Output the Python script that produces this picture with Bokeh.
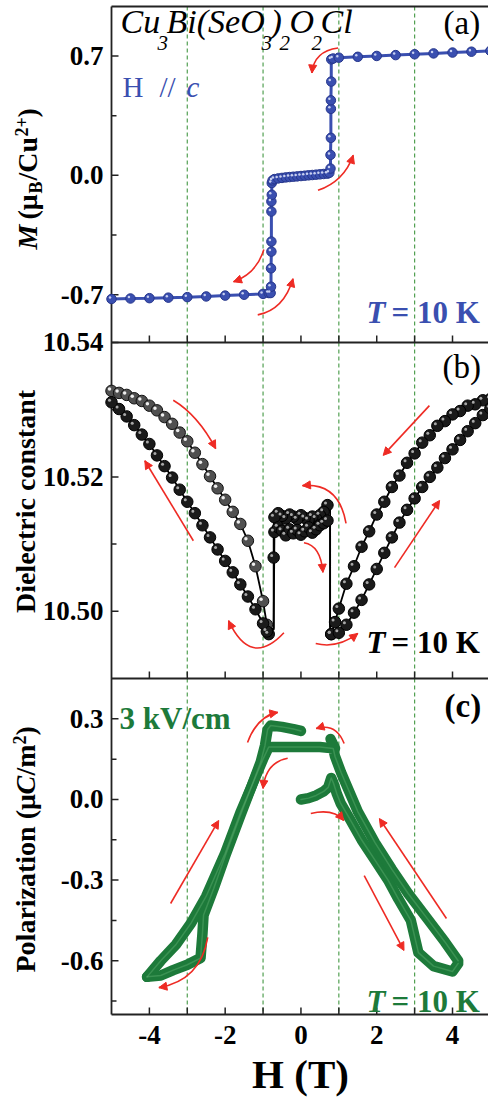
import math
from bokeh.plotting import figure
from bokeh.models import Range1d, Label, Arrow, NormalHead
from bokeh.embed import file_html
from bokeh.resources import INLINE

# ---------------- data ----------------
# (a) magnetization, H // c
H_a = [-5.0, -4.5, -4.0, -3.5, -3.0, -2.5, -2.0, -1.5, -1.0, -0.85, -0.8,
       -0.79, -0.79, -0.78, -0.78, -0.78, -0.78, -0.77, -0.77,
       -0.75, -0.7, -0.6, -0.5, -0.4, -0.3, -0.2, -0.1, 0.0, 0.1, 0.2, 0.3, 0.4, 0.5, 0.6, 0.7, 0.75,
       0.78, 0.78, 0.79, 0.79, 0.79, 0.8, 0.8,
       0.85, 1.0, 1.5, 2.0, 2.5, 3.0, 3.5, 4.0, 4.5, 5.0]
M_a = [-0.725, -0.722, -0.72, -0.717, -0.714, -0.71, -0.705, -0.70, -0.695, -0.69, -0.69,
       -0.653, -0.545, -0.447, -0.388, -0.212, -0.153, -0.114, -0.045,
       -0.03, -0.022, -0.018, -0.015, -0.012, -0.01, -0.008, -0.006, -0.004, -0.002, 0.0, 0.002, 0.004, 0.006, 0.008, 0.01, 0.015,
       0.04, 0.12, 0.22, 0.39, 0.44, 0.55, 0.68,
       0.685, 0.69, 0.695, 0.70, 0.705, 0.71, 0.715, 0.72, 0.725, 0.73]

# (b) dielectric constant; sweep 1 (field decreasing)
H_b_C = [5.0, 4.8, 4.6, 4.4, 4.2, 4.0, 3.8, 3.6, 3.4, 3.2, 3.0, 2.8, 2.6, 2.4, 2.2, 2.0, 1.8, 1.6, 1.4, 1.2, 1.0, 0.9, 0.8, 0.77, 0.77]
E_b_C = [10.5316, 10.5314, 10.5308, 10.5306, 10.5298, 10.5293, 10.5283, 10.5276, 10.5262, 10.5251, 10.5235, 10.5221,
         10.5202, 10.5185, 10.5163, 10.5144, 10.5119, 10.5096, 10.5067, 10.5041, 10.5004, 10.4984, 10.4966, 10.4975, 10.5150]
H_b_P1 = [0.7, 0.6, 0.5, 0.4, 0.3, 0.2, 0.1, 0.0, -0.1, -0.2, -0.3, -0.4, -0.5, -0.6, -0.7]
E_b_P1 = [10.5158, 10.5148, 10.5143, 10.5138, 10.5141, 10.5136, 10.5139, 10.5143, 10.5137, 10.5141, 10.5144, 10.5138,
          10.5142, 10.5146, 10.5140]
H_b_B = [-0.72, -0.72, -0.72, -0.85, -0.9, -1.0, -1.2, -1.4, -1.6, -1.8, -2.0, -2.2, -2.4, -2.6, -2.8, -3.0, -3.2, -3.4,
         -3.6, -3.8, -4.0, -4.2, -4.4, -4.6, -4.8, -5.0]
E_b_B = [10.5125, 10.5080, 10.4975, 10.4966, 10.4970, 10.4982, 10.5003, 10.5022, 10.5040, 10.5058, 10.5075, 10.5092,
         10.5110, 10.5128, 10.5146, 10.5163, 10.5181, 10.5199, 10.5216, 10.5232, 10.5249, 10.5263, 10.5277, 10.5290,
         10.5301, 10.5311]
# sweep 2 (field increasing)
H_b_A = [-5.0, -4.8, -4.6, -4.4, -4.2, -4.0, -3.8, -3.6, -3.4, -3.2, -3.0, -2.8, -2.6, -2.4, -2.2, -2.0, -1.8, -1.6,
         -1.4, -1.2, -1.0, -0.9]
E_b_A = [10.5328, 10.5325, 10.5322, 10.5317, 10.5313, 10.5306, 10.5299, 10.5289, 10.5279, 10.5266, 10.5253, 10.5236,
         10.5219, 10.5201, 10.5183, 10.5166, 10.5148, 10.5130, 10.5105, 10.5067, 10.5015, 10.4980]
H_b_P2 = [-0.72, -0.7, -0.6, -0.5, -0.4, -0.3, -0.2, -0.1, 0.0, 0.1, 0.2, 0.3, 0.4, 0.5, 0.6, 0.7, 0.77, 0.77]
E_b_P2 = [10.4972, 10.5118, 10.5125, 10.5120, 10.5113, 10.5122, 10.5116, 10.5121, 10.5114, 10.5119, 10.5125, 10.5117,
          10.5122, 10.5128, 10.5131, 10.5135, 10.5132, 10.4978]
H_b_D = [0.8, 1.0, 1.2, 1.4, 1.6, 1.8, 2.0, 2.2, 2.4, 2.6, 2.8, 3.0, 3.2, 3.4, 3.6, 3.8, 4.0, 4.2, 4.4, 4.6, 4.8, 5.0]
E_b_D = [10.4966, 10.4968, 10.4980, 10.4998, 10.5017, 10.5040, 10.5063, 10.5087, 10.5110, 10.5132, 10.5151, 10.5168,
         10.5185, 10.5200, 10.5214, 10.5228, 10.5241, 10.5255, 10.5268, 10.5280, 10.5292, 10.5302]

# (c) polarization at 3 kV/cm
H_c1 = [0.0, 0.2, 0.4, 0.6, 0.72, 0.8, 0.86, 0.95, 1.05, 1.3, 1.6, 1.95, 2.3, 2.57, 2.9, 3.1, 3.5, 4.0, 4.15]
P_c1 = [0.0, 0.005, 0.015, 0.03, 0.045, 0.08, 0.06, 0.02, -0.015, -0.075, -0.15, -0.225, -0.30, -0.37, -0.45, -0.57,
        -0.62, -0.64, -0.61]
H_c2 = [4.15, 3.8, 3.37, 2.83, 2.4, 1.95, 1.5, 1.06, 0.9, 0.85, 0.5, 0.0, -0.5, -0.85, -1.0, -1.3, -1.6, -2.0, -2.5,
        -2.9, -3.3, -3.7, -4.06]
P_c2 = [-0.60, -0.53, -0.45, -0.35, -0.26, -0.16, -0.045, 0.10, 0.16, 0.19, 0.195, 0.195, 0.195, 0.195, 0.15, 0.05,
        -0.05, -0.20, -0.36, -0.46, -0.54, -0.60, -0.66]
H_c3 = [-4.06, -3.7, -3.37, -3.0, -2.65, -2.6, -2.57, -2.3, -2.0, -1.6, -1.3, -1.06, -0.95, -0.88, -0.8, -0.5, -0.2, 0.0]
P_c3 = [-0.66, -0.655, -0.635, -0.615, -0.59, -0.50, -0.43, -0.33, -0.21, -0.06, 0.05, 0.14, 0.20, 0.26, 0.275, 0.27,
        0.262, 0.255]
H_c4 = [0.9, 0.78]
P_c4 = [0.19, 0.225]

# axis ticks
x_ticks = [-4, -2, 0, 2, 4]
x_minor = [-3, -1, 1, 3]
yt_a, yl_a, ym_a = [-0.7, 0.0, 0.7], ["-0.7", "0.0", "0.7"], [-0.35, 0.35]
yt_b, yl_b, ym_b = [10.50, 10.52, 10.54], ["10.50", "10.52", "10.54"], [10.51, 10.53]
yt_c, yl_c, ym_c = [-0.6, -0.3, 0.0, 0.3], ["-0.6", "-0.3", "0.0", "0.3"], [-0.75, -0.45, -0.15, 0.15]
guide_H = [-3, -1, 1, 3]

# ---------------- layout ----------------
RED = "#ee2b24"
BLUE = "#3a4fb0"
GREEN = "#1d7a3a"
DGREEN = "#52a052"
AX = "#222222"
SERIF = "Liberation Serif"
W, HH = 488, 1100
FL, PT, PH = 111, 6, 336          # panel left edge, top of first panel, panel height (px)
x_lo, x_hi = -5.0, 4.95
lims = {"default": (-0.98, 0.99), "yb": (10.49, 10.54), "yc": (-0.8, 0.45)}
order = {"default": 0, "yb": 1, "yc": 2}
ppu = {k: PH / (hi - lo) for k, (lo, hi) in lims.items()}
ppx = (W - FL) / (x_hi - x_lo)
XL = x_lo - FL / ppx


def top_px(k):
    return PT + order[k] * PH


def full(k):
    lo, hi = lims[k]
    t = top_px(k)
    return Range1d(lo - (HH - t - PH) / ppu[k], hi + t / ppu[k])


def X(px):
    return x_lo + (px - FL) / ppx


def Y(k, py):
    return lims[k][1] - (py - top_px(k)) / ppu[k]


p = figure(width=W, height=HH, x_range=Range1d(XL, x_hi), y_range=full("default"),
           output_backend="svg", toolbar_location=None, x_axis_location=None, y_axis_location=None,
           min_border=0, min_border_left=0, min_border_right=0, min_border_top=0, min_border_bottom=0,
           outline_line_color=None, background_fill_color="white", border_fill_color="white")
p.extra_y_ranges = {"yb": full("yb"), "yc": full("yc")}
p.grid.visible = False

bottom_a = Y("default", PT + 3 * PH)

# guide lines
p.segment(x0=guide_H, y0=[lims["default"][1]] * 4, x1=guide_H, y1=[bottom_a] * 4,
          line_color=DGREEN, line_width=1.2, line_dash="4 3")

# frame lines
p.segment(x0=[x_lo], y0=[lims["default"][1]], x1=[x_lo], y1=[bottom_a], line_color=AX, line_width=1.8)
for k in ["default", "yb", "yc"]:
    p.segment(x0=[x_lo], y0=[lims[k][0]], x1=[x_hi], y1=[lims[k][0]], line_color=AX, line_width=1.8,
              y_range_name=k)
p.segment(x0=[x_lo], y0=[lims["default"][1]], x1=[x_hi], y1=[lims["default"][1]], line_color=AX, line_width=1.8)

# x ticks on every panel bottom
for k in ["default", "yb", "yc"]:
    xx = x_ticks + x_minor
    p.ray(x=xx, y=[lims[k][0]] * len(xx), length=7, length_units="screen", angle=math.pi / 2,
          line_color=AX, line_width=1.5, y_range_name=k)


def lab(k, xpx, ypx, text, size, style="normal", color="black", angle=0.0, align="left"):
    # baseline placement (px); Bokeh's alphabetic anchor sits about a third of an em low
    sh = 0.34 * size
    if angle:
        xpx = xpx - sh
    else:
        ypx = ypx - sh
    p.add_layout(Label(x=X(xpx), y=Y(k, ypx), text=text, y_range_name=k, text_font=SERIF,
                       text_font_size=f"{size}px", text_font_style=style, text_color=color,
                       angle=angle, text_align=align, text_baseline="alphabetic"))


# y ticks and tick labels
for k, (tv, tl, tm) in {"default": (yt_a, yl_a, ym_a), "yb": (yt_b, yl_b, ym_b), "yc": (yt_c, yl_c, ym_c)}.items():
    p.ray(x=[x_lo] * len(tv), y=tv, length=7, length_units="screen", angle=0, line_color=AX,
          line_width=1.5, y_range_name=k)
    p.ray(x=[x_lo] * len(tm), y=tm, length=5, length_units="screen", angle=0, line_color=AX,
          line_width=1.5, y_range_name=k)
    for v, t in zip(tv, tl):
        py = top_px(k) + (lims[k][1] - v) * ppu[k]
        lab(k, 103, py + 9, t, 27, "bold", align="right")

# x tick labels and title
for v in x_ticks:
    lab("yc", FL + (v - x_lo) * ppx, 1044, f"{v}", 27, "bold", align="center")
lab("yc", 300, 1087, "H (T)", 41, "bold", align="center")

# ---------------- panel (a) ----------------
p.line(H_a, M_a, line_color=BLUE, line_width=3)
p.scatter(H_a, M_a, size=9.5, fill_color=BLUE, line_color="#26368c", line_width=1)
p.scatter([h - 1.5 / ppx for h in H_a], [m + 1.5 / ppu["default"] for m in M_a], size=2.5,
          fill_color="#c8d0f0", line_color=None)

# ---------------- panel (b) ----------------
seq1_H = H_b_C + H_b_P1 + H_b_B
seq1_E = E_b_C + E_b_P1 + E_b_B
seq2_H = H_b_A + H_b_P2 + H_b_D
seq2_E = E_b_A + E_b_P2 + E_b_D
p.line(seq1_H, seq1_E, line_color="black", line_width=1.8, y_range_name="yb")
p.line(seq2_H, seq2_E, line_color="black", line_width=1.8, y_range_name="yb")
dark_H = H_b_C[:23] + H_b_P1 + H_b_B[1:2] + H_b_B[3:] + H_b_P2[1:16] + H_b_D
dark_E = E_b_C[:23] + E_b_P1 + E_b_B[1:2] + E_b_B[3:] + E_b_P2[1:16] + E_b_D
p.scatter(H_b_A, E_b_A, size=11.5, fill_color="#505050", line_color="#111111", y_range_name="yb")
p.scatter([h - 2 / ppx for h in H_b_A], [e + 2 / ppu["yb"] for e in E_b_A], size=3.5,
          fill_color="#eeeeee", line_color=None, y_range_name="yb")
p.scatter(dark_H, dark_E, size=11.5, fill_color="#1a1a1a", line_color="#000000", y_range_name="yb")
p.scatter([h - 2 / ppx for h in dark_H], [e + 2 / ppu["yb"] for e in dark_E], size=3,
          fill_color="#a8a8a8", line_color=None, y_range_name="yb")

# ---------------- panel (c) ----------------
p.multi_line([H_c1, H_c2, H_c3, H_c4], [P_c1, P_c2, P_c3, P_c4], line_color=GREEN, line_width=10.5,
             line_cap="round", line_join="round", y_range_name="yc")
p.multi_line([H_c1, H_c2, H_c3], [P_c1, P_c2, P_c3], line_color="#5fb070", line_width=1.5, line_alpha=0.45,
             line_cap="round", line_join="round", y_range_name="yc")

# ---------------- red arrows ----------------
curved = {
    "default": [(0.98, 0.747, 0.345, 0.729, 0.29, 0.60),
                (0.45, -0.088, 1.14, -0.035, 1.38, 0.118),
                (-0.98, -0.435, -1.17, -0.576, -1.78, -0.624),
                (-1.14, -0.818, -0.45, -0.788, -0.21, -0.606)],
    "yb": [(-3.37, 10.5314, -2.72, 10.5292, -2.25, 10.5242),
           (-2.84, 10.5105, -3.53, 10.5169, -4.12, 10.5224),
           (-0.45, 10.4968, -1.33, 10.4915, -1.91, 10.4986),
           (0.39, 10.4952, 0.97, 10.4944, 1.5, 10.4967),
           (1.19, 10.5131, 1.0, 10.5192, 0.04, 10.5187),
           (0.08, 10.5102, 0.52, 10.5098, 0.58, 10.5058)],
    "yc": [(-1.41, 0.212, -1.15, 0.31, -0.61, 0.324),
           (-0.35, 0.153, -0.93, 0.138, -1.0, 0.041),
           (1.14, 0.208, 0.93, 0.286, 0.40, 0.264),
           (0.26, -0.052, 0.86, -0.033, 1.13, -0.078),
           (-2.46, -0.513, -2.65, -0.673, -3.75, -0.70)],
}
straight = {
    "yb": [(3.39, 10.5306, 2.17, 10.5232), (2.47, 10.5065, 3.66, 10.5165)],
    "yc": [(3.84, -0.443, 2.07, -0.071), (1.67, -0.283, 2.72, -0.562), (-3.44, -0.387, -2.17, -0.078)],
}
for k, lst in curved.items():
    for (x0, y0, cx, cy, x1, y1) in lst:
        p.quadratic(x0=x0, y0=y0, cx=cx, cy=cy, x1=x1, y1=y1, line_color=RED, line_width=1.6, y_range_name=k)
        p.add_layout(Arrow(x_start=cx, y_start=cy, x_end=x1, y_end=y1, line_alpha=0, y_range_name=k,
                           end=NormalHead(size=8, fill_color=RED, line_color=RED, line_width=1)))
for k, lst in straight.items():
    for (x0, y0, x1, y1) in lst:
        p.add_layout(Arrow(x_start=x0, y_start=y0, x_end=x1, y_end=y1, line_color=RED, line_width=1.6,
                           y_range_name=k, end=NormalHead(size=8, fill_color=RED, line_color=RED, line_width=1)))

# ---------------- texts ----------------
for t, xp, yp, sz in [("Cu", 120, 33, 34), ("3", 157, 50, 21), ("Bi(SeO", 166, 33, 34), ("3", 261, 50, 21),
                      (")", 270, 33, 34), ("2", 279, 50, 21), ("O", 289, 33, 34), ("2", 311, 50, 21),
                      ("Cl", 320, 33, 34)]:
    lab("default", xp, yp, t, sz, "italic")
lab("default", 443, 34, "(a)", 33)
lab("yb", 442, 378, "(b)", 33)
lab("yc", 444, 717, "(c)", 33, "bold")

lab("default", 122, 96, "H", 29, color=BLUE)
lab("default", 159, 96, "//", 29, color=BLUE)
lab("default", 186, 96, "c", 29, "italic", color=BLUE)

for k, yb_, col in [("default", 323, BLUE), ("yb", 653, "black"), ("yc", 1012, GREEN)]:
    lab(k, 366, yb_, "T", 31, "bold italic", color=col)
    lab(k, 391, yb_, "= 10 K", 31, "bold", color=col)

lab("yc", 119, 729, "3 kV/cm", 31, "bold", color=GREEN)

# rotated axis titles
R = math.pi / 2
lab("default", 37, 249, "M", 28, "bold italic", angle=R)
lab("default", 37, 219, "(μ", 28, "bold", angle=R)
lab("default", 42, 193, "B", 18, "bold", angle=R)
lab("default", 37, 180, "/Cu", 28, "bold", angle=R)
lab("default", 27, 136, "2+", 18, "bold", angle=R)
lab("default", 37, 117, ")", 28, "bold", angle=R)

lab("yb", 35, 501, "Dielectric constant", 28, "bold", angle=R, align="center")

lab("yc", 35, 972, "Polarization (μ", 28, "bold", angle=R)
lab("yc", 35, 794, "C", 28, "bold italic", angle=R)
lab("yc", 35, 775, "/m", 28, "bold", angle=R)
lab("yc", 25, 744, "2", 18, "bold", angle=R)
lab("yc", 35, 735, ")", 28, "bold", angle=R)

open("out.html", "w").write(file_html(p, INLINE))
